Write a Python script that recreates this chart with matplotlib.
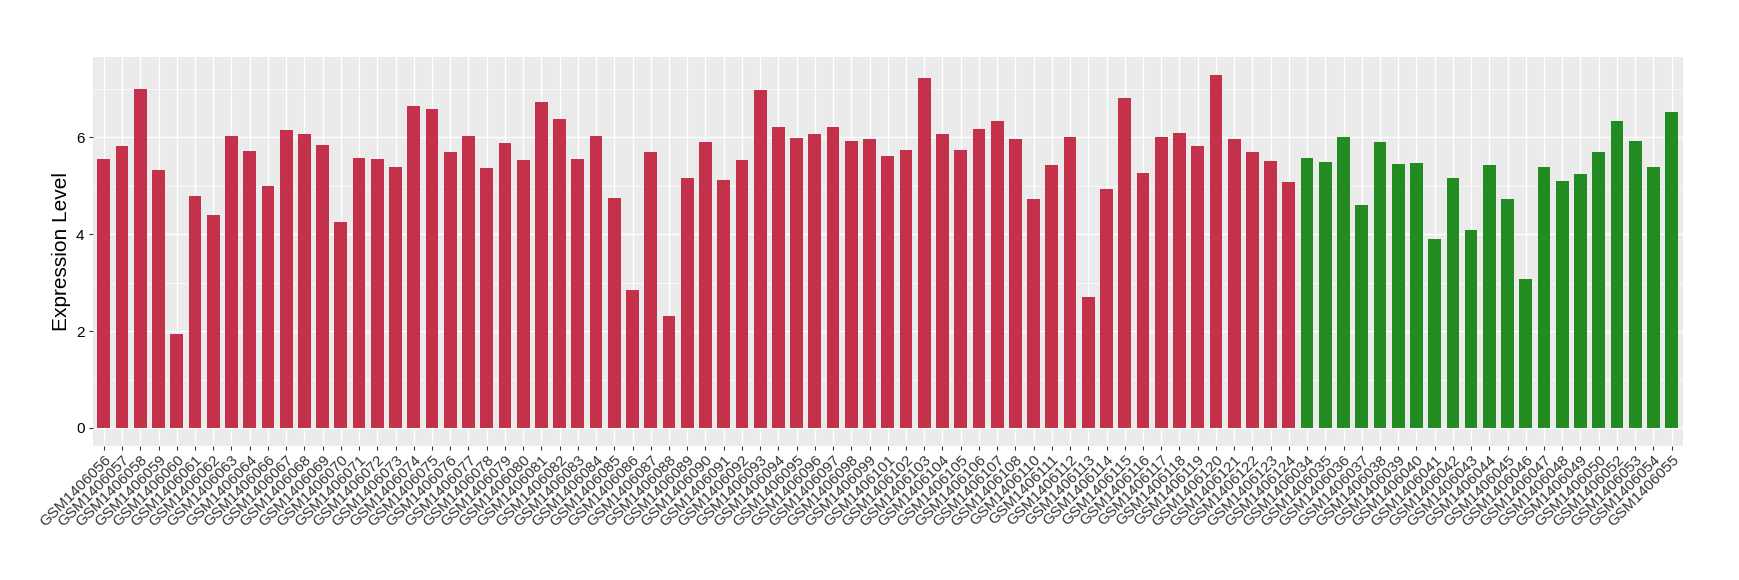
# Bar chart of expression level per sample, ggplot-like look
from matplotlib import pyplot as plt
import numpy as np

# Samples in group 1 (red) and group 2 (green), in plotted order
red_samples = [
    "GSM1406056", "GSM1406057", "GSM1406058", "GSM1406059", "GSM1406060",
    "GSM1406061", "GSM1406062", "GSM1406063", "GSM1406064", "GSM1406066",
    "GSM1406067", "GSM1406068", "GSM1406069", "GSM1406070", "GSM1406071",
    "GSM1406072", "GSM1406073", "GSM1406074", "GSM1406075", "GSM1406076",
    "GSM1406077", "GSM1406078", "GSM1406079", "GSM1406080", "GSM1406081",
    "GSM1406082", "GSM1406083", "GSM1406084", "GSM1406085", "GSM1406086",
    "GSM1406087", "GSM1406088", "GSM1406089", "GSM1406090", "GSM1406091",
    "GSM1406092", "GSM1406093", "GSM1406094", "GSM1406095", "GSM1406096",
    "GSM1406097", "GSM1406098", "GSM1406099", "GSM1406101", "GSM1406102",
    "GSM1406103", "GSM1406104", "GSM1406105", "GSM1406106", "GSM1406107",
    "GSM1406108", "GSM1406110", "GSM1406111", "GSM1406112", "GSM1406113",
    "GSM1406114", "GSM1406115", "GSM1406116", "GSM1406117", "GSM1406118",
    "GSM1406119", "GSM1406120", "GSM1406121", "GSM1406122", "GSM1406123",
    "GSM1406124",
]
red_values = [
    5.55, 5.82, 7.01, 5.32, 1.95, 4.79, 4.40, 6.02, 5.73, 4.99,
    6.15, 6.08, 5.84, 4.25, 5.57, 5.55, 5.38, 6.64, 6.58, 5.71,
    6.04, 5.36, 5.88, 5.53, 6.74, 6.39, 5.55, 6.02, 4.75, 2.85,
    5.71, 2.32, 5.16, 5.90, 5.12, 5.53, 6.97, 6.21, 5.98, 6.08,
    6.21, 5.92, 5.96, 5.61, 5.75, 7.22, 6.08, 5.75, 6.17, 6.33,
    5.96, 4.73, 5.43, 6.00, 2.71, 4.93, 6.82, 5.26, 6.00, 6.10,
    5.82, 7.30, 5.96, 5.69, 5.51, 5.08,
]

green_samples = [
    "GSM1406034", "GSM1406035", "GSM1406036", "GSM1406037", "GSM1406038",
    "GSM1406039", "GSM1406040", "GSM1406041", "GSM1406042", "GSM1406043",
    "GSM1406044", "GSM1406045", "GSM1406046", "GSM1406047", "GSM1406048",
    "GSM1406049", "GSM1406050", "GSM1406052", "GSM1406053", "GSM1406054",
    "GSM1406055",
]
green_values = [
    5.57, 5.49, 6.00, 4.60, 5.90, 5.45, 5.47, 3.90, 5.16, 4.09,
    5.43, 4.73, 3.08, 5.40, 5.10, 5.24, 5.69, 6.33, 5.92, 5.40,
    6.52,
]

samples = red_samples + green_samples
values = red_values + green_values
colors = ["#C3314A"] * len(red_samples) + ["#228B22"] * len(green_samples)

fig, ax = plt.subplots(figsize=(17.4, 5.8), dpi=100)
fig.subplots_adjust(left=0.0534, right=0.967, top=0.902, bottom=0.2316)

x = np.arange(len(samples))
ax.bar(x, values, width=0.7, color=colors, zorder=3)

# ggplot-style panel
ax.set_facecolor("#EBEBEB")
for s in ax.spines.values():
    s.set_visible(False)

ax.set_xlim(-0.6, len(samples) - 0.4)
ax.set_ylim(-0.365, 7.665)
ax.set_yticks([0, 2, 4, 6])
ax.set_yticks([1, 3, 5, 7], minor=True)
ax.set_xticks(x)
ax.set_xticklabels(samples, rotation=45, ha="right", va="top",
                   rotation_mode="anchor", fontsize=11, color="black",
                   family="Liberation Sans")
for lab in ax.get_yticklabels():
    lab.set_family("Liberation Sans")
ax.tick_params(axis="y", labelsize=11, colors="#333333", labelcolor="black",
               length=3, width=0.8, pad=3)
ax.tick_params(axis="x", colors="#333333", length=3, width=0.8, pad=2)
ax.tick_params(axis="y", which="minor", length=0)

ax.grid(True, which="major", color="white", linewidth=1.0, zorder=0)
ax.grid(True, which="minor", axis="y", color="white", linewidth=0.5, zorder=0)
ax.set_axisbelow(True)

ax.set_ylabel("Expression Level", fontsize=15, family="Liberation Sans",
              labelpad=4)

plt.savefig("out.png", dpi=100)
